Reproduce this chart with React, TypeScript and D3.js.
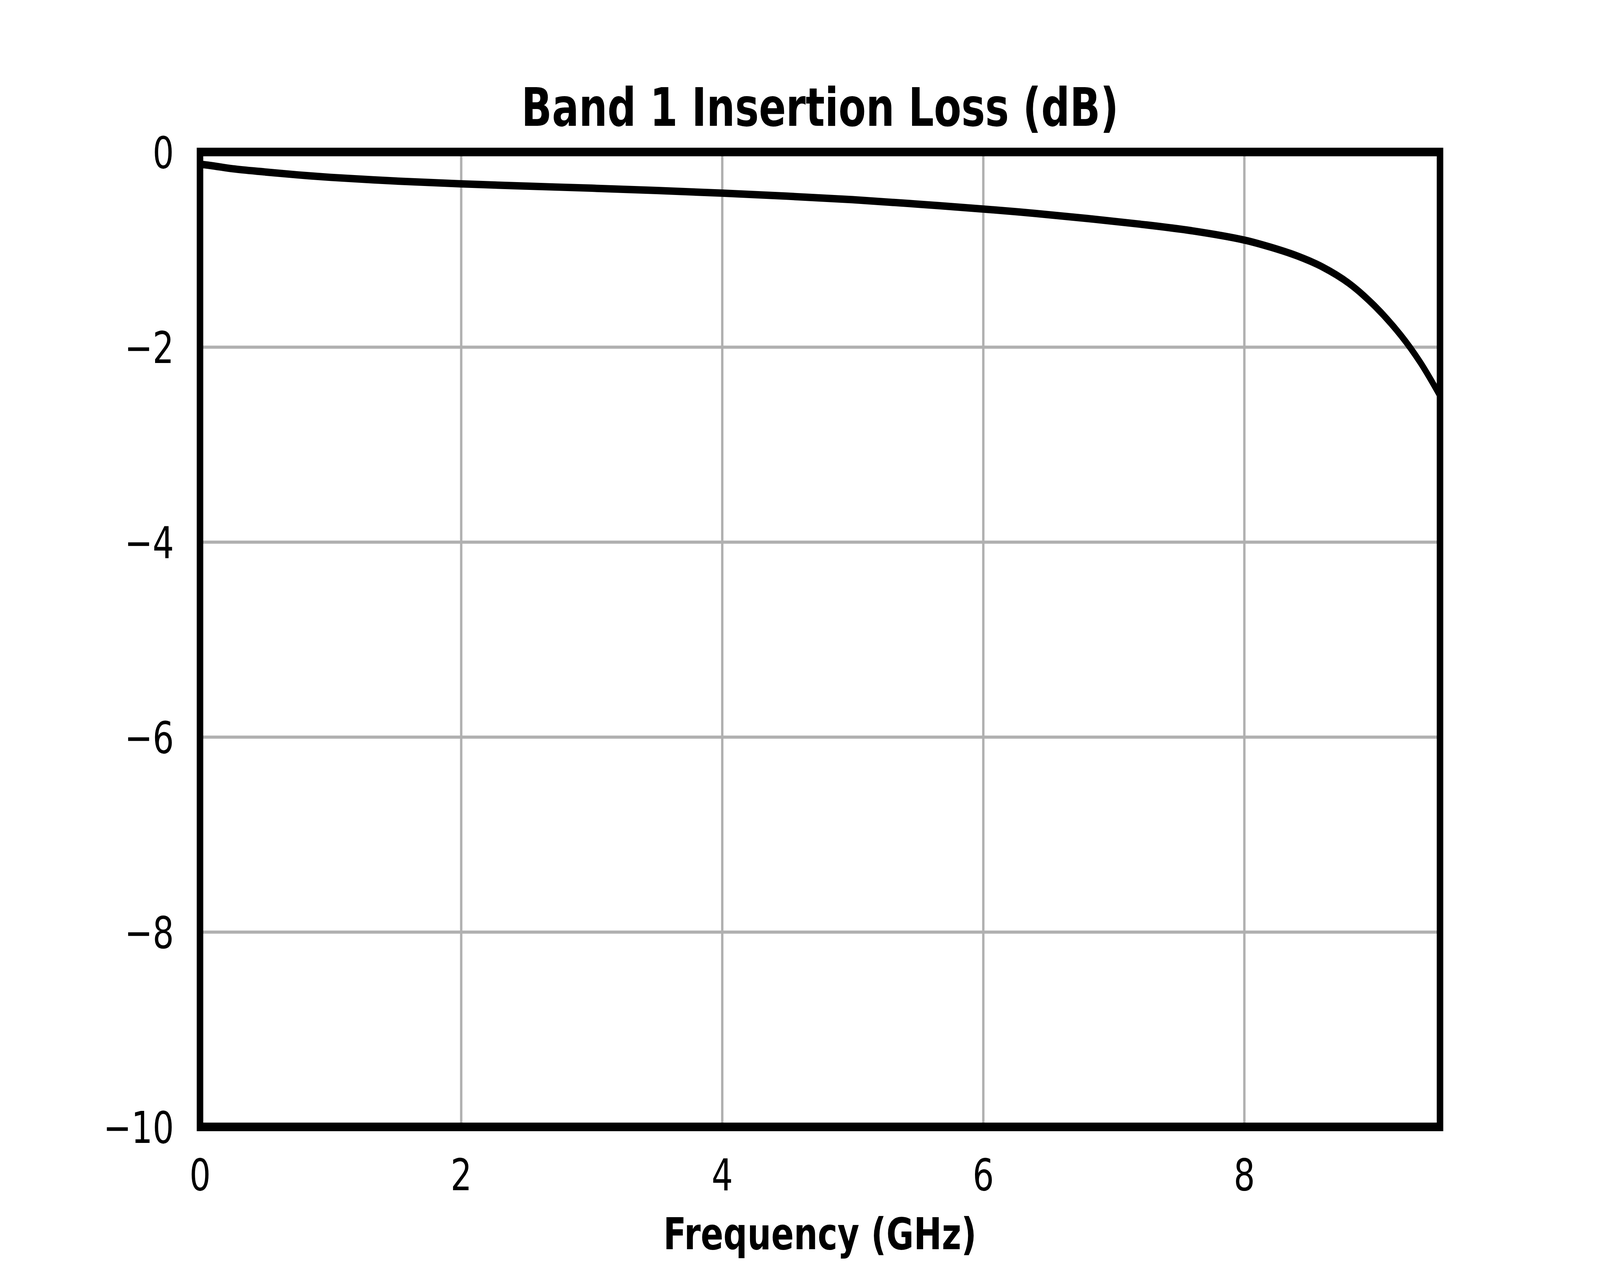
import { useEffect, useRef } from "react";
import * as d3 from "d3";

// frequency points (GHz) and insertion loss (dB)
const freqGHz = [0, 0.1, 0.25, 0.5, 0.75, 1.0, 1.5, 2.0, 2.5, 3.0, 3.5, 4.0, 4.5, 5.0, 5.5, 6.0, 6.4, 6.8, 7.2, 7.6, 8.0, 8.2, 8.4, 8.6, 8.8, 9.0, 9.2, 9.35, 9.5];
const lossDb = [-0.125, -0.142, -0.172, -0.205, -0.235, -0.26, -0.298, -0.327, -0.35, -0.371, -0.395, -0.422, -0.453, -0.489, -0.535, -0.585, -0.63, -0.682, -0.74, -0.808, -0.903, -0.975, -1.063, -1.18, -1.345, -1.58, -1.88, -2.16, -2.5];

const xTicks = [0, 2, 4, 6, 8];
const yTicks = [-10, -8, -6, -4, -2, 0];

const title = "Band 1 Insertion Loss (dB)";
const xLabel = "Frequency (GHz)";

function App() {
  const svgRef = useRef<SVGSVGElement | null>(null);

  useEffect(() => {
    // drawn in a 5400x3240 coordinate space, the viewBox fits it to the window
    const width = 5400;
    const height = 3240;
    const margin = { top: 389, right: 540, bottom: 356, left: 675 };
    const w = width - margin.left - margin.right;
    const h = height - margin.top - margin.bottom;
    const font = "DejaVu Sans";

    const svg = d3.select(svgRef.current);
    svg.selectAll("*").remove();

    svg.append("rect").attr("width", width).attr("height", height).attr("fill", "#fff");

    const g = svg.append("g").attr("transform", `translate(${margin.left},${margin.top})`);

    const x = d3.scaleLinear().domain([0, 9.5]).range([0, w]);
    const y = d3.scaleLinear().domain([-10, 0]).range([h, 0]);

    // x axis + vertical grid
    const xAxis = g.append("g")
      .attr("transform", `translate(0,${h})`)
      .call(d3.axisBottom(x).tickValues(xTicks).tickSizeInner(-h).tickSizeOuter(0).tickPadding(82).tickFormat(d3.format("d")));

    // y axis + horizontal grid
    const yAxis = g.append("g")
      .call(d3.axisLeft(y).tickValues(yTicks).tickSizeInner(-w).tickSizeOuter(0).tickPadding(88).tickFormat(d3.format("d")));

    [xAxis, yAxis].forEach((ax) => {
      ax.select(".domain").remove();
      ax.selectAll(".tick line").attr("stroke", "#b0b0b0").attr("stroke-width", 8);
      ax.selectAll(".tick text")
        .attr("fill", "#000")
        .style("font-family", font)
        .style("font-size", "113px");
    });
    yAxis.selectAll(".tick text").attr("dy", "0.36em");

    // loss curve
    const line = d3.line<number>()
      .x((_, i) => x(freqGHz[i]))
      .y((d) => y(d))
      .curve(d3.curveCatmullRom.alpha(0.5));

    g.append("path")
      .datum(lossDb)
      .attr("fill", "none")
      .attr("stroke", "#000")
      .attr("stroke-width", 19)
      .attr("stroke-linejoin", "round")
      .attr("d", line);

    // frame
    g.append("rect")
      .attr("width", w)
      .attr("height", h)
      .attr("fill", "none")
      .attr("stroke", "#000")
      .attr("stroke-width", 22);

    svg.append("text")
      .attr("x", margin.left + w / 2)
      .attr("y", 322)
      .attr("text-anchor", "middle")
      .style("font-family", font)
      .style("font-weight", "bold")
      .style("font-size", "135px")
      .text(title);

    svg.append("text")
      .attr("x", margin.left + w / 2)
      .attr("y", 3197)
      .attr("text-anchor", "middle")
      .style("font-family", font)
      .style("font-weight", "bold")
      .style("font-size", "113px")
      .text(xLabel);
  }, []);

  return (
    <svg
      ref={svgRef}
      viewBox="0 0 5400 3240"
      preserveAspectRatio="none"
      style={{ position: "fixed", left: 0, top: 0, display: "block", width: "100vw", height: "100vh" }}
    ></svg>
  );
}

export default App;
